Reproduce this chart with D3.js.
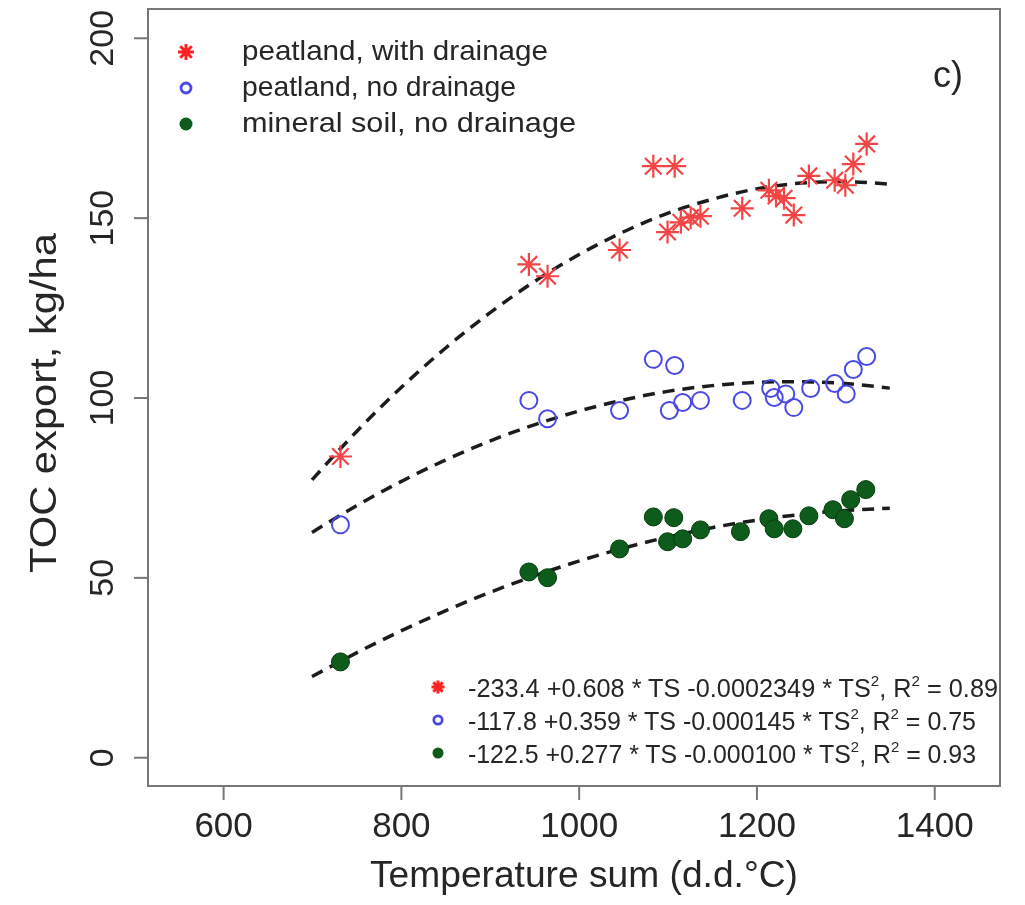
<!DOCTYPE html>
<html lang="en">
<head>
<meta charset="UTF-8">
<title>TOC export vs temperature sum</title>
<script src="https://d3js.org/d3.v7.min.js"></script>
<style>
  body { margin: 0; background: #fff; }
  text { font-family: "Liberation Sans", Arial, sans-serif; fill: #262626; }
</style>
</head>
<body>
<script>
// data
var drainedTS  = [732, 944, 965, 1046, 1084, 1108, 1100, 1115, 1126, 1137, 1184, 1214, 1222, 1231, 1242, 1259, 1288, 1300, 1309, 1324];
var drainedTOC = [83.6, 137, 133.7, 141, 164.3, 164.3, 146, 148.7, 150, 150.4, 152.6, 157.6, 156, 155.4, 150.7, 161.6, 160.4, 159, 164.9, 170.5];

var peatTS  = [732, 944, 965, 1046, 1084, 1108, 1102, 1117, 1137, 1184, 1216, 1220, 1233, 1242, 1261, 1288, 1301, 1309, 1324];
var peatTOC = [64.6, 99.2, 94.1, 96.4, 110.6, 108.9, 96.4, 98.6, 99.2, 99.2, 102.5, 100, 101, 97.2, 102.5, 103.9, 101, 107.8, 111.4];

var mineralTS  = [732, 944, 965, 1046, 1084, 1107, 1100, 1117, 1137, 1182, 1214, 1220, 1241, 1259, 1286, 1299, 1306, 1323];
var mineralTOC = [26.5, 51.5, 49.9, 57.9, 66.8, 66.6, 59.9, 60.7, 63.2, 62.7, 66.3, 63.5, 63.5, 67.1, 68.8, 66.3, 71.6, 74.4];

// fitted curves
var fitTS         = [700, 750, 800, 850, 900, 950, 1000, 1050, 1100, 1150, 1200, 1250, 1300, 1350];
var fitDrained    = [77.1, 90.5, 102.7, 113.7, 123.5, 132.2, 139.7, 146.0, 151.2, 155.1, 158.0, 159.6, 160.0, 159.3];
var fitPeat       = [62.5, 69.9, 76.6, 82.6, 87.9, 92.4, 96.2, 99.3, 101.7, 103.3, 104.2, 104.4, 103.9, 102.6];
var fitMineral    = [22.4, 29.0, 35.1, 40.7, 45.8, 50.4, 54.5, 58.1, 61.2, 63.8, 65.9, 67.5, 68.6, 69.2];

var legendLabels = ["peatland, with drainage", "peatland, no drainage", "mineral soil, no drainage"];
var legendWidths = [306, 274, 334];
var eqLabels = [
    ["-233.4 +0.608 * TS -0.0002349 * TS", ", R", " = 0.89"],
    ["-117.8 +0.359 * TS -0.000145 * TS", ", R", " = 0.75"],
    ["-122.5 +0.277 * TS -0.000100 * TS", ", R", " = 0.93"]
];
var eqWidths = [530, 508, 508];
var xTicks = [600, 800, 1000, 1200, 1400];
var yTicks = [0, 50, 100, 150, 200];

var red = "#f24444", blue = "#4a4ae6", green = "#0a5c1a";

var w = 1025, h = 905;
var boxL = 148, boxR = 1000, boxT = 9, boxB = 786;

var svg = d3.select("body").append("svg")
    .attr("width", w)
    .attr("height", h);

svg.append("defs").append("filter").attr("id", "soft")
    .append("feGaussianBlur").attr("stdDeviation", 0.55);

var plot = svg.append("g").attr("filter", "url(#soft)");

var x = d3.scaleLinear().domain([515.5, 1474]).range([boxL, boxR]);
var y = d3.scaleLinear().domain([-8, 208]).range([boxB, boxT]);

// box
plot.append("rect")
    .attr("x", boxL).attr("y", boxT)
    .attr("width", boxR - boxL).attr("height", boxB - boxT)
    .attr("fill", "none").attr("stroke", "#777").attr("stroke-width", 2);

// x axis
var xAxis = plot.append("g")
    .attr("transform", "translate(0," + boxB + ")")
    .call(d3.axisBottom(x).tickValues(xTicks).tickSize(14).tickPadding(12).tickFormat(d3.format("d")));
xAxis.select(".domain").remove();
xAxis.selectAll("line").attr("stroke", "#777").attr("stroke-width", 2);
xAxis.selectAll("text").style("font-size", "35px").attr("fill", "#262626");

// y axis, labels parallel to axis like R
var yAxis = plot.append("g")
    .attr("transform", "translate(" + boxL + ",0)")
    .call(d3.axisLeft(y).tickValues(yTicks).tickSize(14).tickFormat(d3.format("d")));
yAxis.select(".domain").remove();
yAxis.selectAll("line").attr("stroke", "#777").attr("stroke-width", 2);
yAxis.selectAll("text")
    .style("font-size", "34px").attr("fill", "#262626")
    .attr("text-anchor", "middle")
    .attr("x", 0).attr("y", 0).attr("dy", 0)
    .attr("dominant-baseline", "central")
    .attr("transform", "translate(-47,0) rotate(-90)");

plot.append("text")
    .attr("x", 370).attr("y", 887)
    .attr("textLength", 428)
    .attr("lengthAdjust", "spacingAndGlyphs")
    .style("font-size", "36px")
    .text("Temperature sum (d.d.°C)");

plot.append("text")
    .attr("transform", "translate(43,403) rotate(-90)")
    .attr("text-anchor", "middle")
    .attr("dominant-baseline", "central")
    .attr("textLength", 340)
    .attr("lengthAdjust", "spacingAndGlyphs")
    .style("font-size", "36px")
    .text("TOC export, kg/ha");

// fitted curves
var line = d3.line()
    .x(function(d){ return x(d[0]); })
    .y(function(d){ return y(d[1]); })
    .curve(d3.curveNatural);

[fitDrained, fitPeat, fitMineral].forEach(function(fit){
    plot.append("path")
        .datum(fitTS.map(function(t, i){ return [t, fit[i]]; }))
        .attr("d", line)
        .attr("fill", "none")
        .attr("stroke", "#1e1e1e")
        .attr("stroke-width", 3.5)
        .attr("stroke-dasharray", "12,8");
});

function starPath(r) {
    var k = r * 0.72;
    return "M" + (-r) + ",0L" + r + ",0M0," + (-r) + "L0," + r +
        "M" + (-k) + "," + (-k) + "L" + k + "," + k +
        "M" + (-k) + "," + k + "L" + k + "," + (-k);
}

// points
plot.append("g").selectAll("path")
    .data(drainedTS.map(function(t, i){ return [t, drainedTOC[i]]; }))
    .enter().append("path")
    .attr("transform", function(d){ return "translate(" + x(d[0]) + "," + y(d[1]) + ")"; })
    .attr("d", starPath(11.5))
    .attr("stroke", red).attr("stroke-width", 2.2).attr("fill", "none");

plot.append("g").selectAll("circle")
    .data(peatTS.map(function(t, i){ return [t, peatTOC[i]]; }))
    .enter().append("circle")
    .attr("cx", function(d){ return x(d[0]); })
    .attr("cy", function(d){ return y(d[1]); })
    .attr("r", 8.5)
    .attr("fill", "none").attr("stroke", blue).attr("stroke-width", 2);

plot.append("g").selectAll("circle")
    .data(mineralTS.map(function(t, i){ return [t, mineralTOC[i]]; }))
    .enter().append("circle")
    .attr("cx", function(d){ return x(d[0]); })
    .attr("cy", function(d){ return y(d[1]); })
    .attr("r", 9)
    .attr("fill", green).attr("stroke", "#063d10").attr("stroke-width", 1);

// legend markers
function marker(g, i, big) {
    if (i === 0) {
        g.append("path").attr("d", starPath(big ? 8 : 6.5))
            .attr("stroke", "#ff2020").attr("stroke-width", 3).attr("fill", "none");
    } else if (i === 1) {
        g.append("circle").attr("r", big ? 5 : 4.2)
            .attr("fill", "none").attr("stroke", blue).attr("stroke-width", 2.8);
    } else {
        g.append("circle").attr("r", big ? 6.5 : 5.5).attr("fill", green);
    }
}

// top-left legend
legendLabels.forEach(function(lab, i){
    var base = 60 + i * 36;
    marker(plot.append("g").attr("transform", "translate(186," + (base - 8) + ")"), i, true);
    plot.append("text")
        .attr("x", 242).attr("y", base)
        .attr("textLength", legendWidths[i])
        .attr("lengthAdjust", "spacingAndGlyphs")
        .style("font-size", "28px")
        .text(lab);
});

plot.append("text")
    .attr("x", 933).attr("y", 87)
    .style("font-size", "36px")
    .text("c)");

// equation legend
eqLabels.forEach(function(parts, i){
    var base = 697 + i * 33;
    marker(plot.append("g").attr("transform", "translate(438," + (base - 10) + ")"), i, false);
    var t = plot.append("text")
        .attr("x", 468).attr("y", base)
        .style("font-size", "25px")
        .attr("textLength", eqWidths[i])
        .attr("lengthAdjust", "spacingAndGlyphs");
    t.append("tspan").text(parts[0]);
    t.append("tspan").attr("dy", -11).style("font-size", "15px").text("2");
    t.append("tspan").attr("dy", 11).text(parts[1]);
    t.append("tspan").attr("dy", -11).style("font-size", "15px").text("2");
    t.append("tspan").attr("dy", 11).text(parts[2]);
});
</script>
</body>
</html>
